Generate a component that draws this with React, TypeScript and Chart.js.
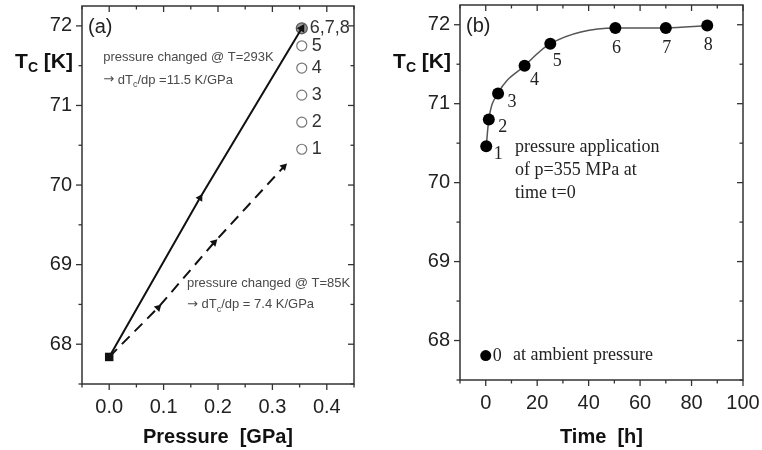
import React, { useEffect, useRef } from "react";
import { Chart, registerables } from "chart.js";

Chart.register(...registerables);

const SANS = "'Liberation Sans', Arial, Helvetica, sans-serif";
const SERIF = "'Liberation Serif', 'Times New Roman', Times, serif";

// ---------- panel (a) data ----------
const pressureAt293K = [0, 0.167, 0.354];
const tcAt293K = [67.84, 69.84, 71.97];
const pressureAt85K = [0, 0.09, 0.193, 0.321];
const tcAt85K = [67.84, 68.46, 69.28, 70.23];
const relaxPressure = [0.354, 0.354, 0.354, 0.354, 0.354];
const relaxTc = [70.45, 70.79, 71.13, 71.47, 71.75];
const relaxLabels = ["1", "2", "3", "4", "5"];
const finalPressure = [0.354];
const finalTc = [71.97];
const finalLabels = ["6,7,8"];
const pressureTicks = [0, 0.1, 0.2, 0.3, 0.4];
const tcTicks = [68, 69, 70, 71, 72];

// ---------- panel (b) data ----------
const timeHours = [0.2, 1.2, 4.8, 15.1, 25.1, 50.4, 70.0, 86.1];
const tcVsTime = [70.46, 70.8, 71.13, 71.48, 71.76, 71.96, 71.96, 71.99];
const timeLabels = ["1", "2", "3", "4", "5", "6", "7", "8"];
const ambientTime = [0];
const ambientTc = [67.81];
const ambientLabels = ["0"];
const timeTicks = [0, 20, 40, 60, 80, 100];

type Seg = { text: string; sub?: boolean; font?: string };
type Note = { x: number; y: number; segs: Seg[] };
type PointLabelSet = {
  dataset: number;
  labels: string[];
  dx: number[];
  dy: number[];
  align: CanvasTextAlign;
  font: string;
  color: string;
};
type PanelCfg = {
  tag: string;
  xTitle: string;
  xMajor: number;
  yMajor: number;
  notes: Note[];
  noteFont: string;
  noteSubFont: string;
  noteSubDy: number;
  noteColor: string;
  pointLabels: PointLabelSet[];
};

const pts = (xs: number[], ys: number[]) => xs.map((x, i) => ({ x, y: ys[i] }));

function drawSegs(
  ctx: CanvasRenderingContext2D,
  segs: Seg[],
  x: number,
  y: number,
  font: string,
  subFont: string,
  subDy: number,
  align: "left" | "right"
) {
  const fontOf = (s: Seg) => s.font || (s.sub ? subFont : font);
  const widths = segs.map((s) => {
    ctx.font = fontOf(s);
    return ctx.measureText(s.text).width;
  });
  const total = widths.reduce((a, b) => a + b, 0);
  let cx = align === "right" ? x - total : x;
  ctx.textAlign = "left";
  segs.forEach((s, i) => {
    ctx.font = fontOf(s);
    ctx.fillText(s.text, cx, s.sub ? y + subDy : y);
    cx += widths[i];
  });
}

function makePanelPlugin(cfg: PanelCfg) {
  return {
    id: "panelDecor",
    afterDatasetsDraw(chart: any) {
      const ctx: CanvasRenderingContext2D = chart.ctx;
      const { left, right, top, bottom } = chart.chartArea;
      const xs = chart.scales.x;
      const ys = chart.scales.y;
      ctx.save();
      ctx.strokeStyle = "#333";
      ctx.lineWidth = 1.5;
      ctx.strokeRect(left, top, right - left, bottom - top);
      ctx.lineWidth = 1.3;
      const line = (x1: number, y1: number, x2: number, y2: number) => {
        ctx.beginPath();
        ctx.moveTo(x1, y1);
        ctx.lineTo(x2, y2);
        ctx.stroke();
      };
      const xm = cfg.xMajor / 2;
      for (let i = Math.ceil(xs.min / xm - 1e-6); i <= Math.floor(xs.max / xm + 1e-6); i++) {
        const v = i * xm;
        const major = i % 2 === 0;
        const len = major ? 6 : 3.5;
        const px = xs.getPixelForValue(v);
        line(px, bottom, px, bottom + len);
        line(px, top, px, top + len);
      }
      const ym = cfg.yMajor / 2;
      for (let i = Math.ceil(ys.min / ym - 1e-6); i <= Math.floor(ys.max / ym + 1e-6); i++) {
        const v = i * ym;
        const major = Math.abs(v / cfg.yMajor - Math.round(v / cfg.yMajor)) < 1e-6;
        const len = major ? 6 : 3.5;
        const py = ys.getPixelForValue(v);
        line(left, py, left - len, py);
        line(right, py, right - len, py);
      }
      ctx.fillStyle = "#222";
      ctx.font = `20px ${SANS}`;
      ctx.textAlign = "left";
      ctx.textBaseline = "middle";
      ctx.fillText(cfg.tag, left + 6, top + 21);
      ctx.fillStyle = cfg.noteColor;
      ctx.textBaseline = "middle";
      cfg.notes.forEach((n) => {
        drawSegs(
          ctx,
          n.segs,
          xs.getPixelForValue(n.x),
          ys.getPixelForValue(n.y),
          cfg.noteFont,
          cfg.noteSubFont,
          cfg.noteSubDy,
          "left"
        );
      });
      cfg.pointLabels.forEach((pl) => {
        const meta = chart.getDatasetMeta(pl.dataset);
        ctx.font = pl.font;
        ctx.fillStyle = pl.color;
        ctx.textAlign = pl.align;
        ctx.textBaseline = "middle";
        pl.labels.forEach((lab, j) => {
          const el = meta.data[j];
          if (!el) return;
          ctx.fillText(lab, el.x + pl.dx[j], el.y + pl.dy[j]);
        });
      });
      ctx.fillStyle = "#111";
      ctx.textBaseline = "alphabetic";
      drawSegs(
        ctx,
        [{ text: "T" }, { text: "C", sub: true }, { text: " [K]" }],
        left - 9,
        68,
        `bold 21px ${SANS}`,
        `bold 14px ${SANS}`,
        4,
        "right"
      );
      ctx.font = `bold 20px ${SANS}`;
      ctx.textAlign = "center";
      ctx.textBaseline = "middle";
      ctx.fillText(cfg.xTitle, (left + right) / 2, 437);
      ctx.restore();
    },
  };
}

function scaleOpts(
  min: number,
  max: number,
  tickVals: number[],
  fmt: (v: number) => string,
  isX: boolean,
  size: number
) {
  return {
    type: "linear",
    min,
    max,
    afterBuildTicks: (s: any) => {
      s.ticks = tickVals.map((v) => ({ value: v }));
    },
    afterFit: (s: any) => {
      if (isX) s.height = size;
      else s.width = size;
      s.paddingLeft = 0;
      s.paddingRight = 0;
      s.paddingTop = 0;
      s.paddingBottom = 0;
    },
    ticks: {
      callback: (v: any) => fmt(Number(v)),
      font: { family: SANS, size: 20 },
      color: "#222",
      padding: isX ? 11 : 10,
      maxRotation: 0,
      minRotation: 0,
      autoSkip: false,
    },
    grid: { display: false, drawTicks: false },
    border: { display: false },
  };
}

const ARROW_FONT = "13px 'DejaVu Sans', sans-serif";

function configA() {
  const cfg: PanelCfg = {
    tag: "(a)",
    xTitle: "Pressure  [GPa]",
    xMajor: 0.1,
    yMajor: 1,
    noteFont: `13px ${SANS}`,
    noteSubFont: `9px ${SANS}`,
    noteSubDy: 5,
    noteColor: "#4a4a4a",
    notes: [
      { x: -0.011, y: 71.61, segs: [{ text: "pressure changed @ T=293K" }] },
      {
        x: -0.011,
        y: 71.32,
        segs: [
          { text: "\u2192", font: ARROW_FONT },
          { text: " dT" },
          { text: "c", sub: true },
          { text: "/dp =11.5 K/GPa" },
        ],
      },
      { x: 0.143, y: 68.77, segs: [{ text: "pressure changed @ T=85K" }] },
      {
        x: 0.143,
        y: 68.495,
        segs: [
          { text: "\u2192", font: ARROW_FONT },
          { text: " dT" },
          { text: "c", sub: true },
          { text: "/dp = 7.4 K/GPa" },
        ],
      },
    ],
    pointLabels: [
      {
        dataset: 0,
        labels: relaxLabels,
        dx: [10, 10, 10, 10, 10],
        dy: [0, 0, 0, 0, 0],
        align: "left",
        font: `18px ${SANS}`,
        color: "#333",
      },
      {
        dataset: 1,
        labels: finalLabels,
        dx: [8],
        dy: [0],
        align: "left",
        font: `18px ${SANS}`,
        color: "#333",
      },
    ],
  };
  return {
    type: "scatter",
    data: {
      datasets: [
        {
          data: pts(relaxPressure, relaxTc),
          showLine: false,
          pointStyle: "circle",
          pointRadius: 5,
          pointBorderWidth: 1.2,
          pointBorderColor: "#777",
          pointBackgroundColor: "#fff",
          order: 3,
        },
        {
          data: pts(finalPressure, finalTc),
          showLine: false,
          pointStyle: "circle",
          pointRadius: 5.5,
          pointBorderWidth: 1.2,
          pointBorderColor: "#555",
          pointBackgroundColor: "#999",
          order: 3,
        },
        {
          data: pts(pressureAt293K, tcAt293K),
          showLine: true,
          borderColor: "#111",
          borderWidth: 2,
          pointStyle: "triangle",
          pointRotation: 31,
          pointRadius: [0, 4.5, 5],
          pointBorderWidth: 0,
          pointBackgroundColor: "#111",
          pointBorderColor: "#111",
          order: 1,
        },
        {
          data: pts(pressureAt85K, tcAt85K),
          showLine: true,
          borderColor: "#111",
          borderWidth: 2,
          borderDash: [11, 7],
          pointStyle: "triangle",
          pointRotation: 45,
          pointRadius: [0, 4.5, 4.5, 4.5],
          pointBorderWidth: 0,
          pointBackgroundColor: "#111",
          pointBorderColor: "#111",
          order: 1,
        },
        {
          data: pts([pressureAt293K[0]], [tcAt293K[0]]),
          showLine: false,
          pointStyle: "rect",
          pointRadius: 6,
          pointBorderWidth: 0,
          pointBackgroundColor: "#111",
          order: 0,
        },
      ],
    },
    options: {
      animation: false,
      responsive: false,
      devicePixelRatio: 1,
      layout: { padding: { top: 6, right: 27, left: 0, bottom: 0 }, autoPadding: false },
      plugins: { legend: { display: false }, tooltip: { enabled: false } },
      scales: {
        x: scaleOpts(-0.05, 0.45, pressureTicks, (v) => v.toFixed(1), true, 66),
        y: scaleOpts(67.5, 72.25, tcTicks, (v) => String(v), false, 82),
      },
    },
    plugins: [makePanelPlugin(cfg)],
  } as any;
}

function configB() {
  const cfg: PanelCfg = {
    tag: "(b)",
    xTitle: "Time  [h]",
    xMajor: 20,
    yMajor: 1,
    noteFont: `18px ${SERIF}`,
    noteSubFont: `12px ${SERIF}`,
    noteSubDy: 4,
    noteColor: "#222",
    notes: [
      { x: 11.4, y: 70.45, segs: [{ text: "pressure application" }] },
      { x: 11.4, y: 70.16, segs: [{ text: "of p=355 MPa at" }] },
      { x: 11.4, y: 69.87, segs: [{ text: "time t=0" }] },
      { x: 10.6, y: 67.81, segs: [{ text: "at ambient pressure" }] },
    ],
    pointLabels: [
      {
        dataset: 0,
        labels: timeLabels,
        dx: [12, 14, 14, 10, 7, 1, 1, 1],
        dy: [8, 8, 9, 14, 18, 20, 20, 20],
        align: "center",
        font: `18px ${SERIF}`,
        color: "#222",
      },
      {
        dataset: 1,
        labels: ambientLabels,
        dx: [11.5],
        dy: [1],
        align: "center",
        font: `18px ${SERIF}`,
        color: "#222",
      },
    ],
  };
  return {
    type: "scatter",
    data: {
      datasets: [
        {
          data: pts(timeHours, tcVsTime),
          showLine: true,
          cubicInterpolationMode: "monotone",
          borderColor: "#555",
          borderWidth: 1.5,
          pointStyle: "circle",
          pointRadius: 6,
          pointBorderWidth: 0,
          pointBackgroundColor: "#000",
          pointBorderColor: "#000",
        },
        {
          data: pts(ambientTime, ambientTc),
          showLine: false,
          pointStyle: "circle",
          pointRadius: 5.5,
          pointBorderWidth: 0,
          pointBackgroundColor: "#000",
        },
      ],
    },
    options: {
      animation: false,
      responsive: false,
      devicePixelRatio: 1,
      layout: { padding: { top: 5, right: 19, left: 0, bottom: 0 }, autoPadding: false },
      plugins: { legend: { display: false }, tooltip: { enabled: false } },
      scales: {
        x: scaleOpts(-10, 100, timeTicks, (v) => String(v), true, 70),
        y: scaleOpts(67.5, 72.25, tcTicks, (v) => String(v), false, 79),
      },
    },
    plugins: [makePanelPlugin(cfg)],
  } as any;
}

function Panel({ build, left }: { build: () => any; left: number }) {
  const ref = useRef<HTMLCanvasElement>(null);
  useEffect(() => {
    if (!ref.current) return;
    const chart = new Chart(ref.current, build());
    return () => chart.destroy();
  }, [build]);
  return (
    <canvas
      ref={ref}
      width={381}
      height={450}
      style={{ position: "absolute", left, top: 0, width: 381, height: 450 }}
    />
  );
}

export default function App() {
  return (
    <div
      style={{
        position: "absolute",
        left: 0,
        top: 0,
        width: 762,
        height: 450,
        background: "#fff",
        overflow: "hidden",
      }}
    >
      <Panel build={configA} left={0} />
      <Panel build={configB} left={381} />
    </div>
  );
}
